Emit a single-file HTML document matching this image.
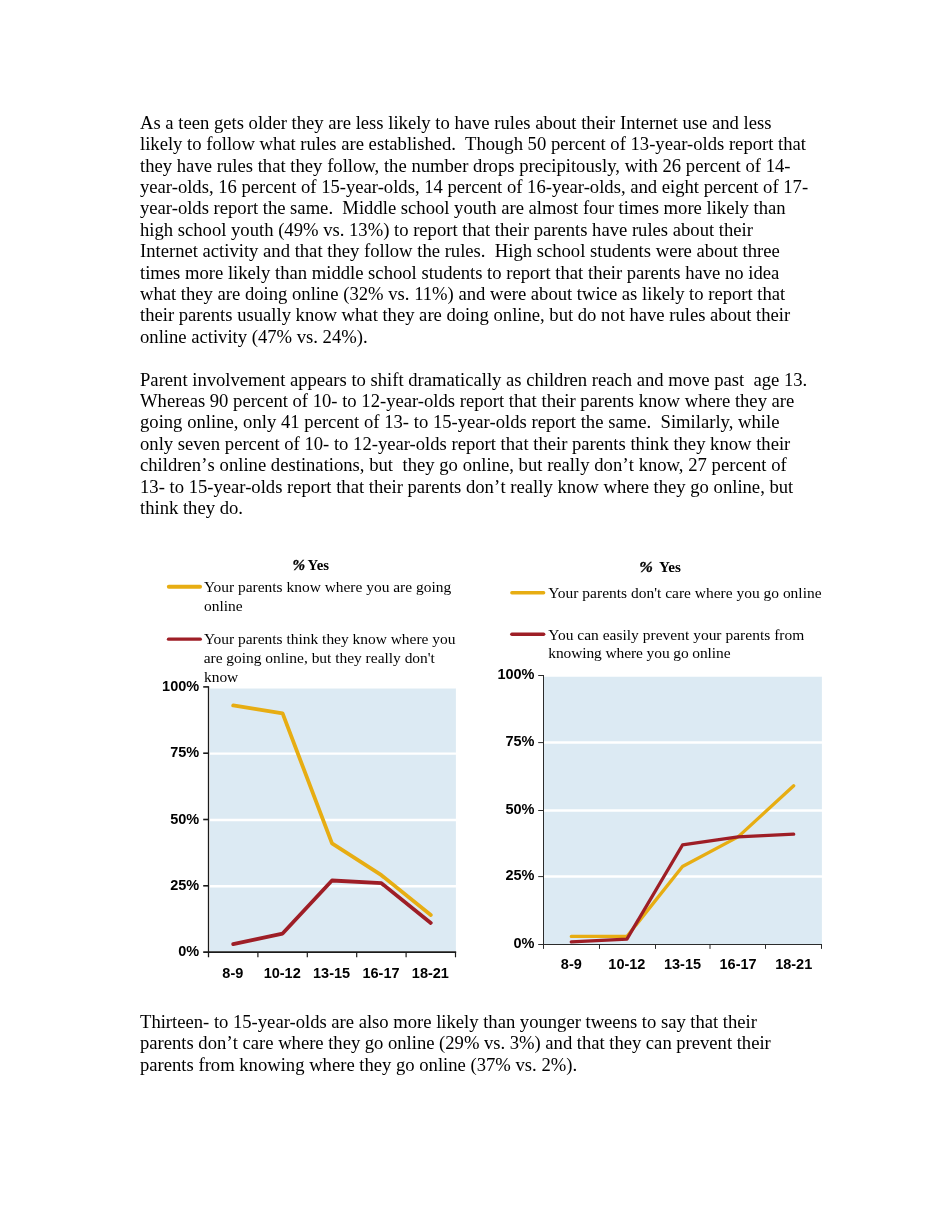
<!DOCTYPE html>
<html><head><meta charset="utf-8"><title>page</title>
<style>
html,body{margin:0;padding:0;background:#fff;}
body{width:950px;height:1230px;position:relative;overflow:hidden;font-family:"Liberation Serif",serif;color:#000;}
.l{position:absolute;left:139.6px;font-size:18.64px;line-height:19px;white-space:nowrap;height:19px;will-change:transform;}
.q{margin-left:0.2px;margin-right:0.2px;}
svg{position:absolute;left:0;top:0;will-change:transform;}
svg text{font-family:"Liberation Sans",sans-serif;font-weight:bold;font-size:14px;fill:#000;}
svg text.s{font-family:"Liberation Serif",serif;font-weight:normal;font-size:15.5px;}
svg text.t{font-family:"Liberation Serif",serif;font-weight:bold;font-size:14px;}
</style></head><body>
<div class="l" style="top:113px">As a teen gets older they are less likely to have rules about their Internet use and less</div>
<div class="l" style="top:134px">likely to follow what rules are established.&nbsp; Though 50 percent of 13-year-olds report that</div>
<div class="l" style="top:156px;word-spacing:0.086px">they have rules that they follow, the number drops precipitously, with 26 percent of 14-</div>
<div class="l" style="top:177px">year-olds, 16 percent of 15-year-olds, 14 percent of 16-year-olds, and eight percent of 17-</div>
<div class="l" style="top:198px">year-olds report the same.&nbsp; Middle school youth are almost four times more likely than</div>
<div class="l" style="top:220px">high school youth (49% vs. 13%) to report that their parents have rules about their</div>
<div class="l" style="top:241px">Internet activity and that they follow the rules.&nbsp; High school students were about three</div>
<div class="l" style="top:263px">times more likely than middle school students to report that their parents have no idea</div>
<div class="l" style="top:284px">what they are doing online (32% vs. 11%) and were about twice as likely to report that</div>
<div class="l" style="top:305px;word-spacing:-0.033px">their parents usually know what they are doing online, but do not have rules about their</div>
<div class="l" style="top:327px">online activity (47% vs. 24%).</div>
<div class="l" style="top:370px;word-spacing:-0.029px">Parent involvement appears to shift dramatically as children reach and move past&nbsp; age 13.</div>
<div class="l" style="top:391px">Whereas 90 percent of 10- to 12-year-olds report that their parents know where they are</div>
<div class="l" style="top:412px;word-spacing:0.086px">going online, only 41 percent of 13- to 15-year-olds report the same.&nbsp; Similarly, while</div>
<div class="l" style="top:434px">only seven percent of 10- to 12-year-olds report that their parents think they know their</div>
<div class="l" style="top:455px;word-spacing:0.075px">children<span class="q">’</span>s online destinations, but&nbsp; they go online, but really don<span class="q">’</span>t know, 27 percent of</div>
<div class="l" style="top:477px">13- to 15-year-olds report that their parents don<span class="q">’</span>t really know where they go online, but</div>
<div class="l" style="top:498px">think they do.</div>
<div class="l" style="top:1012px;word-spacing:-0.054px">Thirteen- to 15-year-olds are also more likely than younger tweens to say that their</div>
<div class="l" style="top:1033px;word-spacing:-0.106px">parents don<span class="q">’</span>t care where they go online (29% vs. 3%) and that they can prevent their</div>
<div class="l" style="top:1055px">parents from knowing where they go online (37% vs. 2%).</div>
<svg width="950" height="1230" viewBox="0 0 950 1230">
<rect x="210.0" y="686.9" width="245.90" height="265.20" fill="#DCEAF3"/>
<line x1="210.0" x2="456.10" y1="952.55" y2="952.55" stroke="#fff" stroke-width="2.4"/>
<line x1="210.0" x2="456.10" y1="886.25" y2="886.25" stroke="#fff" stroke-width="2.4"/>
<line x1="210.0" x2="456.10" y1="819.95" y2="819.95" stroke="#fff" stroke-width="2.4"/>
<line x1="210.0" x2="456.10" y1="753.65" y2="753.65" stroke="#fff" stroke-width="2.4"/>
<line x1="210.0" x2="456.10" y1="687.35" y2="687.35" stroke="#fff" stroke-width="2.4"/>
<polyline points="233.20,705.46 282.60,713.42 332.00,843.37 381.40,875.19 430.80,914.97" fill="none" stroke="#E7AD12" stroke-width="3.8" stroke-linecap="round" stroke-linejoin="round"/>
<polyline points="233.20,944.14 282.60,933.54 332.00,880.50 381.40,883.15 430.80,922.93" fill="none" stroke="#9E1E26" stroke-width="3.8" stroke-linecap="round" stroke-linejoin="round"/>
<line x1="208.5" x2="208.5" y1="686.25" y2="957.30" stroke="#1a1a1a" stroke-width="1.3"/>
<line x1="203.2" x2="456.15" y1="952.1" y2="952.1" stroke="#1a1a1a" stroke-width="1.9"/>
<text x="199.2" y="956.10" text-anchor="end" style="font-size:14.5px">0%</text>
<line x1="203.2" x2="208.5" y1="885.80" y2="885.80" stroke="#1a1a1a" stroke-width="1.6"/>
<text x="199.2" y="889.80" text-anchor="end" style="font-size:14.5px">25%</text>
<line x1="203.2" x2="208.5" y1="819.50" y2="819.50" stroke="#1a1a1a" stroke-width="1.6"/>
<text x="199.2" y="823.50" text-anchor="end" style="font-size:14.5px">50%</text>
<line x1="203.2" x2="208.5" y1="753.20" y2="753.20" stroke="#1a1a1a" stroke-width="1.6"/>
<text x="199.2" y="757.20" text-anchor="end" style="font-size:14.5px">75%</text>
<line x1="203.2" x2="208.5" y1="686.90" y2="686.90" stroke="#1a1a1a" stroke-width="1.6"/>
<text x="199.2" y="690.90" text-anchor="end" style="font-size:14.5px">100%</text>
<line x1="257.90" x2="257.90" y1="952.1" y2="957.30" stroke="#1a1a1a" stroke-width="1.2"/>
<line x1="307.30" x2="307.30" y1="952.1" y2="957.30" stroke="#1a1a1a" stroke-width="1.2"/>
<line x1="356.70" x2="356.70" y1="952.1" y2="957.30" stroke="#1a1a1a" stroke-width="1.2"/>
<line x1="406.10" x2="406.10" y1="952.1" y2="957.30" stroke="#1a1a1a" stroke-width="1.2"/>
<line x1="455.50" x2="455.50" y1="952.1" y2="957.30" stroke="#1a1a1a" stroke-width="1.2"/>
<text x="232.80" y="977.5" text-anchor="middle" style="font-size:14.5px">8-9</text>
<text x="282.20" y="977.5" text-anchor="middle" style="font-size:14.5px">10-12</text>
<text x="331.60" y="977.5" text-anchor="middle" style="font-size:14.5px">13-15</text>
<text x="381.00" y="977.5" text-anchor="middle" style="font-size:14.5px">16-17</text>
<text x="430.40" y="977.5" text-anchor="middle" style="font-size:14.5px">18-21</text>
<line x1="168.8" x2="200.1" y1="586.7" y2="586.7" stroke="#E7AD12" stroke-width="3.9" stroke-linecap="round"/>
<line x1="168.5" x2="200.3" y1="639.2" y2="639.2" stroke="#9E1E26" stroke-width="3.3" stroke-linecap="round"/>
<text class="s" x="203.95" y="592.0" textLength="247.2" style="font-size:15.45px">Your parents know where you are going</text>
<text class="s" x="203.95" y="610.8" style="font-size:15.45px">online</text>
<text class="s" x="203.95" y="643.7" textLength="251.5" style="font-size:15.45px">Your parents think they know where you</text>
<text class="s" x="203.65" y="662.8" textLength="231.2" style="font-size:15.45px">are going online, but they really don't</text>
<text class="s" x="203.95" y="681.8" style="font-size:15.45px">know</text>
<text class="t" x="292.4" y="569.8" textLength="12.6" lengthAdjust="spacingAndGlyphs" style="font-size:14.5px;font-style:italic;stroke:#000;stroke-width:0.35px">%</text>
<text class="t" x="307.6" y="569.8" textLength="21.4" lengthAdjust="spacingAndGlyphs" style="font-size:13.8px">Yes</text>
<rect x="543.5" y="675.5" width="278.40" height="269.00" fill="#DCEAF3"/>
<line x1="543.5" x2="822.10" y1="876.60" y2="876.60" stroke="#fff" stroke-width="2.5"/>
<line x1="543.5" x2="822.10" y1="810.50" y2="810.50" stroke="#fff" stroke-width="2.5"/>
<line x1="543.5" x2="822.10" y1="742.60" y2="742.60" stroke="#fff" stroke-width="2.5"/>
<line x1="543.5" x2="822.10" y1="675.50" y2="675.50" stroke="#fff" stroke-width="2.5"/>
<polyline points="571.30,936.43 626.90,936.43 682.50,866.49 738.10,836.90 793.70,785.79" fill="none" stroke="#E7AD12" stroke-width="3.3" stroke-linecap="round" stroke-linejoin="round"/>
<polyline points="571.30,941.81 626.90,939.12 682.50,844.97 738.10,836.90 793.70,834.21" fill="none" stroke="#9E1E26" stroke-width="3.3" stroke-linecap="round" stroke-linejoin="round"/>
<line x1="543.5" x2="543.5" y1="675.00" y2="948.90" stroke="#2b2b2b" stroke-width="1.0"/>
<line x1="538.2" x2="822.00" y1="944.5" y2="944.5" stroke="#2b2b2b" stroke-width="1.2"/>
<text x="534.5" y="947.80" text-anchor="end" style="font-size:14.5px">0%</text>
<line x1="538.2" x2="543.5" y1="876.60" y2="876.60" stroke="#2b2b2b" stroke-width="1.0"/>
<text x="534.5" y="879.90" text-anchor="end" style="font-size:14.5px">25%</text>
<line x1="538.2" x2="543.5" y1="810.50" y2="810.50" stroke="#2b2b2b" stroke-width="1.0"/>
<text x="534.5" y="813.80" text-anchor="end" style="font-size:14.5px">50%</text>
<line x1="538.2" x2="543.5" y1="742.60" y2="742.60" stroke="#2b2b2b" stroke-width="1.0"/>
<text x="534.5" y="745.90" text-anchor="end" style="font-size:14.5px">75%</text>
<line x1="538.2" x2="543.5" y1="675.50" y2="675.50" stroke="#2b2b2b" stroke-width="1.0"/>
<text x="534.5" y="678.80" text-anchor="end" style="font-size:14.5px">100%</text>
<line x1="599.50" x2="599.50" y1="944.5" y2="948.90" stroke="#2b2b2b" stroke-width="1.0"/>
<line x1="655.50" x2="655.50" y1="944.5" y2="948.90" stroke="#2b2b2b" stroke-width="1.0"/>
<line x1="710.00" x2="710.00" y1="944.5" y2="948.90" stroke="#2b2b2b" stroke-width="1.0"/>
<line x1="765.50" x2="765.50" y1="944.5" y2="948.90" stroke="#2b2b2b" stroke-width="1.0"/>
<line x1="821.50" x2="821.50" y1="944.5" y2="948.90" stroke="#2b2b2b" stroke-width="1.0"/>
<text x="571.30" y="969.4" text-anchor="middle" style="font-size:14.5px">8-9</text>
<text x="626.90" y="969.4" text-anchor="middle" style="font-size:14.5px">10-12</text>
<text x="682.50" y="969.4" text-anchor="middle" style="font-size:14.5px">13-15</text>
<text x="738.10" y="969.4" text-anchor="middle" style="font-size:14.5px">16-17</text>
<text x="793.70" y="969.4" text-anchor="middle" style="font-size:14.5px">18-21</text>
<line x1="511.9" x2="543.6" y1="592.75" y2="592.75" stroke="#E7AD12" stroke-width="3.5" stroke-linecap="round"/>
<line x1="511.9" x2="543.6" y1="634.3" y2="634.3" stroke="#9E1E26" stroke-width="3.6" stroke-linecap="round"/>
<text class="s" x="548.25" y="598.0" textLength="273.3" style="font-size:15.45px">Your parents don't care where you go online</text>
<text class="s" x="548.25" y="639.6" textLength="256.0" style="font-size:15.45px">You can easily prevent your parents from</text>
<text class="s" x="548.25" y="658.1" textLength="182.3" style="font-size:15.45px">knowing where you go online</text>
<text class="t" x="639.2" y="572.2" textLength="13.6" lengthAdjust="spacingAndGlyphs" style="font-size:15.5px;font-style:italic;stroke:#000;stroke-width:0.35px">%</text>
<text class="t" x="659.1" y="572.2" textLength="21.9" lengthAdjust="spacingAndGlyphs" style="font-size:14.8px">Yes</text>
</svg>
</body></html>
